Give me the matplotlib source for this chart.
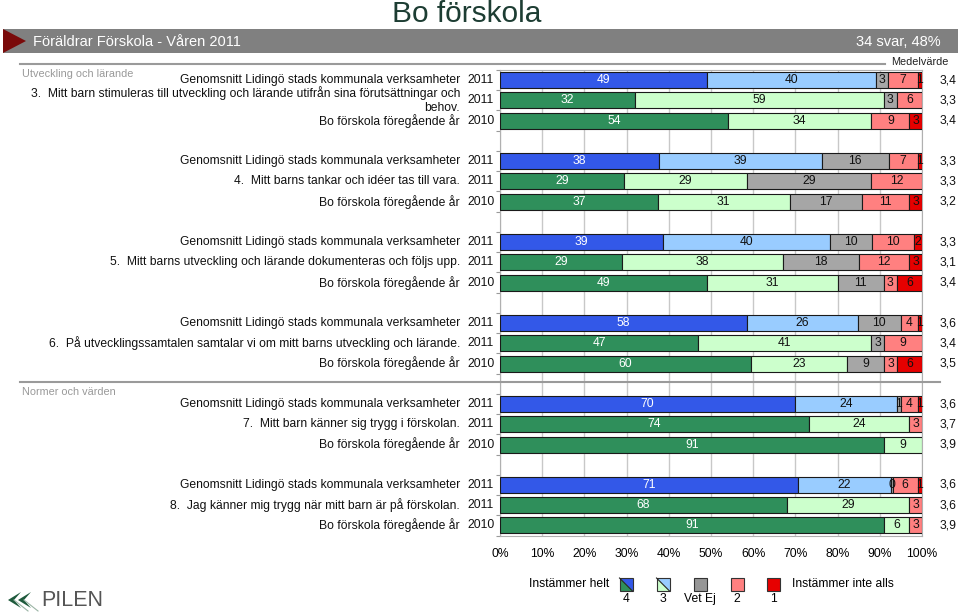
"""Bo förskola - föräldraenkät våren 2011, stacked percentage bars."""

import matplotlib
matplotlib.use("Agg")
import matplotlib.pyplot as plt
import matplotlib.transforms as mtransforms
from matplotlib.patches import Polygon, Rectangle

plt.rcParams["font.family"] = ["Liberation Sans", "DejaVu Sans"]

# ---------------------------------------------------------------------------
# Data
# ---------------------------------------------------------------------------

TITLE = "Bo förskola"
HEADER_LEFT = "Föräldrar Förskola - Våren 2011"
HEADER_RIGHT = "34 svar, 48%"

SECTIONS = ["Utveckling och lärande", "Normer och värden"]

QUESTIONS = [
    "3.  Mitt barn stimuleras till utveckling och lärande utifrån sina förutsättningar och\nbehov.",
    "4.  Mitt barns tankar och idéer tas till vara.",
    "5.  Mitt barns utveckling och lärande dokumenteras och följs upp.",
    "6.  På utvecklingssamtalen samtalar vi om mitt barns utveckling och lärande.",
    "7.  Mitt barn känner sig trygg i förskolan.",
    "8.  Jag känner mig trygg när mitt barn är på förskolan.",
]
ROW_LABEL_AVG = "Genomsnitt Lidingö stads kommunala verksamheter"
ROW_LABEL_PREV = "Bo förskola föregående år"
ROW_YEARS = ["2011", "2011", "2010"]

CATEGORIES = ["4", "3", "Vet Ej", "2", "1"]

# one value per row, top to bottom (3 rows per question)
VAL_4 = [49, 32, 54, 38, 29, 37, 39, 29, 49, 58, 47, 60, 70, 74, 91, 71, 68, 91]
VAL_3 = [40, 59, 34, 39, 29, 31, 40, 38, 31, 26, 41, 23, 24, 24, 9, 22, 29, 6]
VAL_VETEJ = [3, 3, 0, 16, 29, 17, 10, 18, 11, 10, 3, 9, 1, 0, 0, 0.4, 0, 0]
VAL_2 = [7, 6, 9, 7, 12, 11, 10, 12, 3, 4, 9, 3, 4, 3, 0, 6, 3, 3]
VAL_1 = [1, 0, 3, 1, 0, 3, 2, 3, 6, 1, 0, 6, 1, 0, 0, 1, 0, 0]

MEANS = [3.4, 3.3, 3.4, 3.3, 3.3, 3.2, 3.3, 3.1, 3.4,
         3.6, 3.4, 3.5, 3.6, 3.7, 3.9, 3.6, 3.6, 3.9]

X_TICKS = [0, 10, 20, 30, 40, 50, 60, 70, 80, 90, 100]

# ---------------------------------------------------------------------------
# Style
# ---------------------------------------------------------------------------

W, H = 960, 613
COLORS_AVG = ["#3358e8", "#99ccff", "#a6a6a6", "#ff8080", "#e60000"]
COLORS_OWN = ["#2f8f5b", "#ccffcc", "#a6a6a6", "#ff8080", "#e60000"]
GRID = "#c8c8c8"
FS = 8.7


def px(fig):
    """Transform from pixel coords (origin top-left) to figure."""
    return mtransforms.Affine2D().scale(1 / W, -1 / H).translate(0, 1) + fig.transFigure


def slot(q, r):
    return q * 4 + r


def main() -> None:
    fig = plt.figure(figsize=(W / 100, H / 100), dpi=100)
    T = px(fig)

    # — Header --------------------------------------------------------------
    fig.text(467, 14, TITLE, transform=T, ha="center", va="center",
             fontsize=21.5, color="#1d3d33")
    fig.patches.append(Rectangle((3, 29), 955, 24, transform=T,
                                 facecolor="#808080", edgecolor="none"))
    fig.patches.append(Polygon([(3, 29), (26, 41), (3, 53)], transform=T,
                               facecolor="#7a0a0a", edgecolor="none"))
    fig.text(33, 41.5, HEADER_LEFT, transform=T, ha="left", va="center",
             fontsize=10.5, color="white")
    fig.text(941, 41.5, HEADER_RIGHT, transform=T, ha="right", va="center",
             fontsize=10.5, color="white")

    fig.lines.append(plt.Line2D([20, 885], [64, 64], transform=T,
                                color="#9a9a9a", linewidth=1.5))
    fig.lines.append(plt.Line2D([20, 940], [382, 382], transform=T,
                                color="#9a9a9a", linewidth=1.5))
    fig.text(920, 62, "Medelvärde", transform=T, ha="center", va="center",
             fontsize=7.8, color="#222222")
    fig.text(22, 74, SECTIONS[0], transform=T, ha="left", va="center",
             fontsize=7.8, color="#999999")
    fig.text(22, 392, SECTIONS[1], transform=T, ha="left", va="center",
             fontsize=7.8, color="#999999")

    # — Bars ----------------------------------------------------------------
    ax = fig.add_axes([500 / W, 1 - 535.6 / H, 422 / W, 465.6 / H])
    series = [VAL_4, VAL_3, VAL_VETEJ, VAL_2, VAL_1]
    n_rows = len(VAL_4)
    ys = [slot(i // 3, i % 3) for i in range(n_rows)]

    for i in range(n_rows):
        colors = COLORS_AVG if i % 3 == 0 else COLORS_OWN
        total = sum(vals[i] for vals in series)
        left = 0
        for c, vals in enumerate(series):
            v = vals[i]
            if v <= 0:
                continue
            w = v / total * 100  # shown values are rounded; bars fill 100 %
            bars = ax.barh(ys[i], w, left=left, height=0.79, color=colors[c],
                           edgecolor="#1a1a1a", linewidth=0.8, zorder=3)
            t = ax.text(left + w / 2, ys[i], f"{v:.0f}", ha="center",
                        va="center", fontsize=FS,
                        color="white" if c == 0 else "#111111", zorder=4)
            t.set_clip_path(bars[0])
            left += w

    ax.set_xlim(0, 100)
    ax.set_ylim(22.5, -0.5)
    ax.set_xticks(X_TICKS)
    ax.set_xticklabels([f"{t}%" for t in X_TICKS], fontsize=FS)
    ax.tick_params(axis="x", length=0, pad=9)
    ax.set_yticks([s - 0.5 for s in range(24)])
    ax.set_yticklabels([])
    ax.tick_params(axis="y", length=3, color="#999999")
    ax.grid(axis="x", color=GRID, linewidth=1.0, zorder=0)
    for sp in ax.spines.values():
        sp.set_color("#b0b0b0")
        sp.set_linewidth(0.8)

    # — Row labels and means ----------------------------------------------
    lab = mtransforms.blended_transform_factory(T, ax.transData)
    for i in range(n_rows):
        q, r = divmod(i, 3)
        if r == 0:
            text = ROW_LABEL_AVG
        elif r == 1:
            text = QUESTIONS[q]
        else:
            text = ROW_LABEL_PREV
        ax.text(460, ys[i], text, transform=lab, ha="right", va="center",
                multialignment="right", fontsize=FS, color="#111111")
        ax.text(467, ys[i], ROW_YEARS[r], transform=lab, ha="left",
                va="center", fontsize=FS, color="#111111")
        ax.text(948, ys[i], f"{MEANS[i]:.1f}".replace(".", ","),
                transform=lab, ha="center", va="center", fontsize=FS,
                color="#111111")

    # — Legend --------------------------------------------------------------
    fig.text(609, 584, "Instämmer helt", transform=T, ha="right",
             va="center", fontsize=FS)
    fig.text(792, 584, "Instämmer inte alls", transform=T, ha="left",
             va="center", fontsize=FS)
    centers = [626, 663, 700, 737, 773]
    for c, cx in enumerate(centers):
        x0, x1, y0, y1 = cx - 6.5, cx + 6.5, 578, 591
        if c < 2:
            fig.patches.append(Polygon([(x0, y0), (x0, y1), (x1, y1)],
                                       transform=T, facecolor=COLORS_OWN[c],
                                       edgecolor="none"))
            fig.patches.append(Polygon([(x0, y0), (x1, y0), (x1, y1)],
                                       transform=T, facecolor=COLORS_AVG[c],
                                       edgecolor="none"))
            fig.lines.append(plt.Line2D([x0, x1], [y0, y1], transform=T,
                                        color="#222222", linewidth=0.8))
            fig.patches.append(Rectangle((x0, y0), 13, 13, transform=T,
                                         facecolor="none",
                                         edgecolor="#333333", linewidth=0.8))
        else:
            face = "#969696" if c == 2 else COLORS_AVG[c]
            fig.patches.append(Rectangle((x0, y0), 13, 13, transform=T,
                                         facecolor=face,
                                         edgecolor="#333333", linewidth=0.8))
        fig.text(cx, 599, CATEGORIES[c], transform=T, ha="center",
                 va="center", fontsize=FS)

    # — Logo ----------------------------------------------------------------
    for x in (8, 18):
        fig.patches.append(Polygon([(x, 600), (x + 13, 592), (x + 6, 600),
                                    (x + 13, 608)], transform=T,
                                   facecolor="#1e5a3c", edgecolor="none"))
        fig.lines.append(plt.Line2D([x + 6, x + 20], [600, 611], transform=T,
                                    color="#9bb5a5", linewidth=0.8))
    fig.text(41, 600, "PILEN", transform=T, ha="left", va="center",
             fontsize=15.5, color="#555555")

    fig.savefig("out.png", dpi=100)
    plt.close(fig)


if __name__ == "__main__":
    main()
